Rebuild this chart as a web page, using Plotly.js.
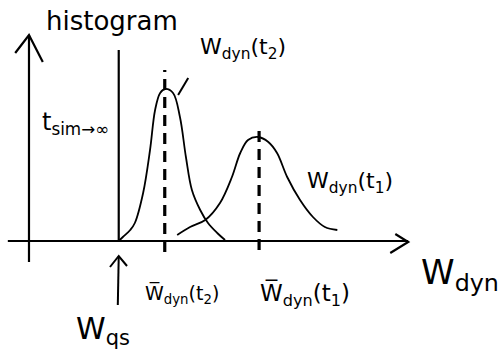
<!DOCTYPE html>
<html>
<head>
<meta charset="utf-8">
<script src="https://cdn.plot.ly/plotly-3.0.1.min.js"></script>
<style>
  html, body { margin: 0; padding: 0; background: #fff; }
  #chart { width: 503px; height: 354px; }
</style>
</head>
<body>
<div id="chart"></div>
<script>
// Histogram of W_dyn at two times t1 < t2, with the quasi-static work W_qs
// as a hard lower bound (t_sim -> infinity).

// Key positions on the W_dyn axis
const wQs = 1.95;
const meanT2 = 2.95;
const meanT1 = 5.0;

// Histogram at t2: narrow, tall peak just above W_qs
const histT2W = [1.95, 2.04, 2.20, 2.30, 2.48, 2.63, 2.74, 2.85, 2.96, 3.13, 3.28, 3.41, 3.54, 3.72, 3.89, 4.09, 4.26];
const histT2P = [0.00, 0.08, 0.22, 0.36, 0.96, 1.82, 2.62, 2.96, 3.04, 2.96, 2.48, 1.68, 1.02, 0.62, 0.36, 0.16, 0.02];

// Histogram at t1: broad, lower peak further out
const histT1W = [3.22, 3.50, 3.83, 4.15, 4.41, 4.59, 4.76, 4.98, 5.20, 5.39, 5.61, 5.89, 6.17, 6.43, 6.70];
const histT1P = [0.12, 0.28, 0.42, 0.76, 1.28, 1.76, 2.02, 2.08, 1.98, 1.76, 1.28, 0.82, 0.48, 0.28, 0.22];

// Axis extents
const xAxisFrom = -0.46, xAxisTo = 8.24;
const yAxisFrom = -0.42, yAxisTo = 4.12;
const wQsTop = 3.82;

const ink = '#000';
const seg = (x, y, w, dash, smooth) => ({
  type: 'scatter', mode: 'lines', x: x, y: y, hoverinfo: 'skip',
  line: smooth
    ? { color: ink, width: w, dash: dash || 'solid', shape: 'spline', smoothing: smooth }
    : { color: ink, width: w, dash: dash || 'solid', shape: 'linear' }
});

const traces = [
  // horizontal W_dyn axis with open arrow head
  seg([xAxisFrom, xAxisTo], [0, 0], 2.2),
  seg([xAxisTo - 0.28, xAxisTo, xAxisTo - 0.39], [0.14, -0.02, -0.24], 2.2),
  // vertical histogram axis with open arrow head
  seg([0, 0], [yAxisFrom, yAxisTo], 2.2),
  seg([-0.30, 0, 0.30], [yAxisTo - 0.36, yAxisTo, yAxisTo - 0.54], 2.2),
  // lower bound W_qs
  seg([wQs, wQs], [0, wQsTop], 2.2),
  // pointer up to W_qs from its label
  seg([wQs - 0.02, wQs], [-1.28, -0.30], 2),
  seg([wQs - 0.19, wQs, wQs + 0.18], [-0.52, -0.30, -0.50], 2),
  // the two histograms
  seg(histT2W, histT2P, 1.8, null, 1.0),
  seg(histT1W, histT1P, 1.8, null, 1.0),
  // means
  seg([meanT2, meanT2], [-0.22, 3.42], 3.2, '11px,7px'),
  seg([meanT1, meanT1], [-0.18, 2.26], 3.2, '11px,7px'),
  // leader from the t2 label to its peak
  seg([3.24, 3.46], [2.92, 3.26], 2)
];

const font = 'DejaVu Sans, sans-serif';
const lab = (x, y, text, size) => ({
  x: x, y: y, xref: 'x', yref: 'y', text: text, showarrow: false,
  font: { family: font, size: size, color: ink }
});

const layout = {
  width: 503, height: 354,
  margin: { l: 0, r: 0, t: 0, b: 0 },
  paper_bgcolor: '#fff', plot_bgcolor: '#fff',
  showlegend: false,
  xaxis: { range: [-0.63, 10.30], visible: false, fixedrange: true },
  yaxis: { range: [-2.26, 4.82], visible: false, fixedrange: true },
  annotations: [
    lab(1.80, 4.40, 'histogram', 26),
    lab(1.00, 2.36, 't<sub>sim→∞</sub>', 24),
    lab(4.65, 3.86, 'W<sub>dyn</sub>(t<sub>2</sub>)', 22),
    lab(6.98, 1.18, 'W<sub>dyn</sub>(t<sub>1</sub>)', 22),
    lab(9.37, -0.66, 'W<sub>dyn</sub>', 34),
    lab(3.33, -1.06, 'W\u0305<sub>dyn</sub>(t<sub>2</sub>)', 19),
    lab(6.00, -1.06, 'W\u0305<sub>dyn</sub>(t<sub>1</sub>)', 23),
    lab(1.61, -1.78, 'W<sub>qs</sub>', 30)
  ]
};

Plotly.newPlot('chart', traces, layout, { staticPlot: true, displayModeBar: false });
</script>
</body>
</html>
